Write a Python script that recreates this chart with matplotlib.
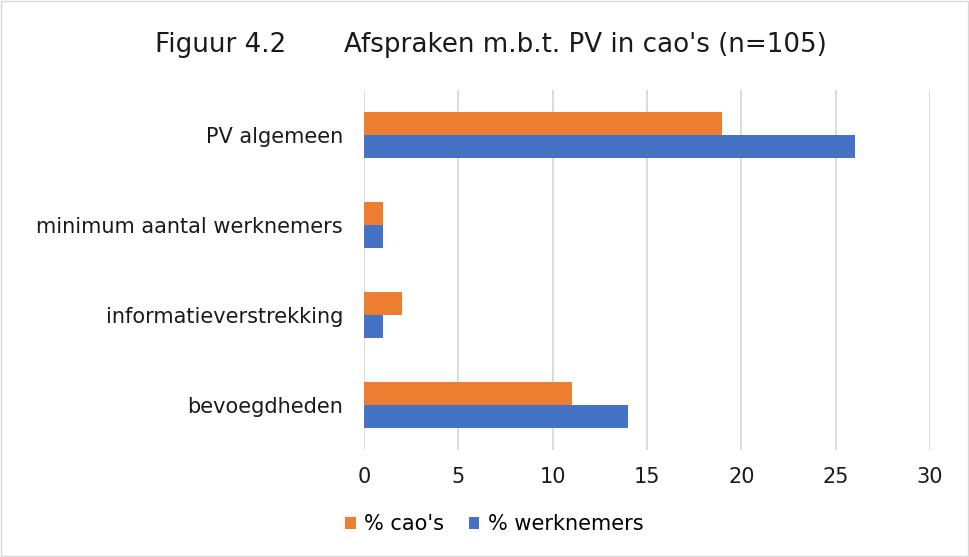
import numpy as np
import matplotlib.pyplot as plt
from matplotlib.patches import Rectangle

plt.rcParams['font.family'] = ['DejaVu Sans']

# DATA
categories = ["PV algemeen", "minimum aantal werknemers", "informatieverstrekking", "bevoegdheden"]
pct_caos = [19, 1, 2, 11]
pct_werknemers = [26, 1, 1, 14]
xticks = [0, 5, 10, 15, 20, 25, 30]

fig = plt.figure(figsize=(9.69, 5.57), dpi=100)
ax = fig.add_axes([0.3756, 0.1921, 0.5842, 0.6463])

y = np.arange(len(categories))[::-1]
h = 0.256
ax.barh(y + h/2, pct_caos, height=h, color="#ED7D31", label="% cao's", zorder=3)
ax.barh(y - h/2, pct_werknemers, height=h, color="#4472C4", label="% werknemers", zorder=3)

ax.set_xlim(0, 30)
ax.set_ylim(-0.5, len(categories) - 0.5)
ax.set_xticks(xticks)
ax.set_yticks(y)
ax.set_yticklabels(categories)
ax.tick_params(axis='both', length=0, labelsize=15, colors="#1a1a1a")
ax.tick_params(axis='x', pad=12)
ax.tick_params(axis='y', pad=15)
ax.xaxis.grid(True, color="#d9d9d9", linewidth=1.3, zorder=0)
for s in ax.spines.values():
    s.set_visible(False)

fig.text(0.507, 0.919, "Figuur 4.2" + " " * 7 + "Afspraken m.b.t. PV in cao's (n=105)",
         ha='center', va='center', fontsize=18.8, color="#1a1a1a")

fig.legend(loc='center', bbox_to_anchor=(0.51, 0.059), ncol=2, frameon=False,
           fontsize=15, handlelength=0.5, handleheight=0.5, handletextpad=0.4,
           columnspacing=1.2)

fig.patches.append(Rectangle((0.001, 0.001), 0.998, 0.998, transform=fig.transFigure,
                             fill=False, edgecolor="#d9d9d9", linewidth=1))

fig.savefig("out.png", dpi=100)
